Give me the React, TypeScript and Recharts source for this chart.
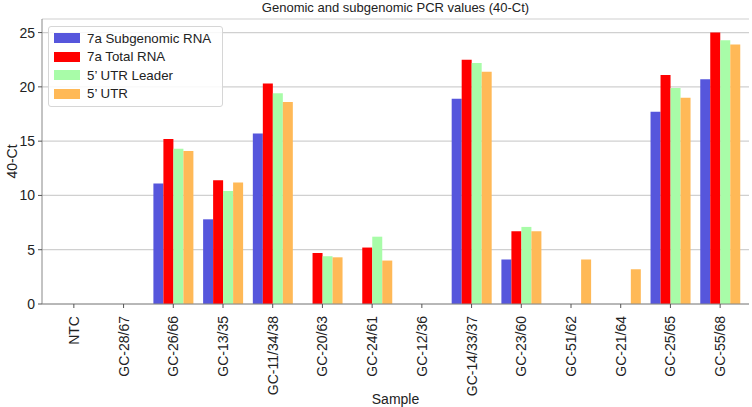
import React from "react";
import {
  BarChart,
  Bar,
  XAxis,
  YAxis,
  CartesianGrid,
  Label,
} from "recharts";

const samples = [
  "NTC",
  "GC-28/67",
  "GC-26/66",
  "GC-13/35",
  "GC-11/34/38",
  "GC-20/63",
  "GC-24/61",
  "GC-12/36",
  "GC-14/33/37",
  "GC-23/60",
  "GC-51/62",
  "GC-21/64",
  "GC-25/65",
  "GC-55/68",
];

const subgenomic7a = [0, 0, 11.1, 7.8, 15.7, 0, 0, 0, 18.9, 4.1, 0, 0, 17.7, 20.7];
const total7a = [0, 0, 15.2, 11.4, 20.3, 4.7, 5.2, 0, 22.5, 6.7, 0, 0, 21.1, 25.0];
const utrLeader = [0, 0, 14.3, 10.4, 19.4, 4.4, 6.2, 0, 22.2, 7.1, 0, 0, 19.9, 24.3];
const utr5 = [0, 0, 14.1, 11.2, 18.6, 4.3, 4.0, 0, 21.4, 6.7, 4.1, 3.2, 19.0, 23.9];

const yTicks = [0, 5, 10, 15, 20, 25];

const series = [
  { key: "sub", name: "7a Subgenomic RNA", color: "#5656dc", values: subgenomic7a },
  { key: "total", name: "7a Total RNA", color: "#ff0000", values: total7a },
  { key: "leader", name: "5\u2019 UTR Leader", color: "#a8fca8", values: utrLeader },
  { key: "utr", name: "5\u2019 UTR", color: "#ffb957", values: utr5 },
];

const chartData = samples.map((sample, i) => {
  const row: Record<string, string | number> = { sample };
  series.forEach((s) => {
    row[s.key] = s.values[i];
  });
  return row;
});

const FONT = "'Liberation Sans', Arial, Helvetica, sans-serif";
const AXIS = "#888888";

function XTick(props: any) {
  const { x, y, payload } = props;
  const ty = y + 6;
  return (
    <text
      x={x}
      y={ty}
      transform={`rotate(-90 ${x} ${ty})`}
      textAnchor="end"
      dominantBaseline="central"
      fontSize={14}
      fontFamily={FONT}
      fill="#222"
    >
      {payload.value}
    </text>
  );
}

function LegendBox() {
  return (
    <div
      style={{
        position: "absolute",
        left: 48,
        top: 26,
        width: 175,
        boxSizing: "border-box",
        padding: "2px 0 3px 5px",
        border: "1px solid #d6d6d6",
        borderRadius: 3,
        background: "rgba(255,255,255,0.85)",
        fontFamily: FONT,
        fontSize: 13.3,
        color: "#222",
      }}
    >
      {series.map((s) => (
        <div
          key={s.key}
          style={{ display: "flex", alignItems: "center", height: 18.5 }}
        >
          <span
            style={{
              display: "inline-block",
              width: 26,
              height: 10,
              background: s.color,
              marginRight: 7,
            }}
          />
          <span>{s.name}</span>
        </div>
      ))}
    </div>
  );
}

export default function App() {
  return (
    <div style={{ position: "absolute", left: 0, top: 0, width: 752, height: 407, background: "#fff" }}>
      <div
        style={{
          position: "absolute",
          left: 42,
          top: 0,
          width: 707,
          textAlign: "center",
          fontFamily: FONT,
          fontSize: 13,
          lineHeight: "16px",
          color: "#222",
        }}
      >
        Genomic and subgenomic PCR values (40-Ct)
      </div>
      <BarChart
        width={752}
        height={407}
        data={chartData}
        margin={{ top: 19, right: 3, left: 0, bottom: 0 }}
        barCategoryGap="10%"
        barGap={0}
      >
        <CartesianGrid vertical={false} stroke="#d0d0d0" strokeWidth={1.2} />
        <XAxis
          dataKey="sample"
          interval={0}
          height={103}
          padding={{ left: 7, right: 4 }}
          stroke={AXIS}
          tickSize={4}
          tickLine={{ stroke: "#555" }}
          tick={<XTick />}
        >
          <Label
            value="Sample"
            position="insideBottom"
            offset={3}
            style={{ fontSize: 14, fontFamily: FONT, fill: "#222" }}
          />
        </XAxis>
        <XAxis
          xAxisId="top"
          dataKey="sample"
          orientation="top"
          height={0}
          tick={false}
          tickLine={false}
          stroke={AXIS}
        />
        <YAxis
          width={42}
          domain={[0, 26.25]}
          ticks={yTicks}
          stroke={AXIS}
          tickSize={4}
          tickMargin={3}
          tickLine={{ stroke: "#555" }}
          tick={{ fontSize: 14, fontFamily: FONT, fill: "#222" }}
        >
          <Label
            content={(p: any) => {
              const vb = p.viewBox || {};
              const cx = 12;
              const cy = vb.y + vb.height / 2;
              return (
                <text
                  x={cx}
                  y={cy}
                  transform={`rotate(-90 ${cx} ${cy})`}
                  textAnchor="middle"
                  dominantBaseline="central"
                  fontSize={14}
                  fontFamily={FONT}
                  fill="#222"
                >
                  40-Ct
                </text>
              );
            }}
          />
        </YAxis>
        <YAxis
          yAxisId="right"
          orientation="right"
          width={0}
          domain={[0, 26.25]}
          tick={false}
          tickLine={false}
          stroke={AXIS}
        />
        {series.map((s) => (
          <Bar
            key={s.key}
            dataKey={s.key}
            name={s.name}
            fill={s.color}
            isAnimationActive={false}
          />
        ))}
      </BarChart>
      <LegendBox />
    </div>
  );
}
